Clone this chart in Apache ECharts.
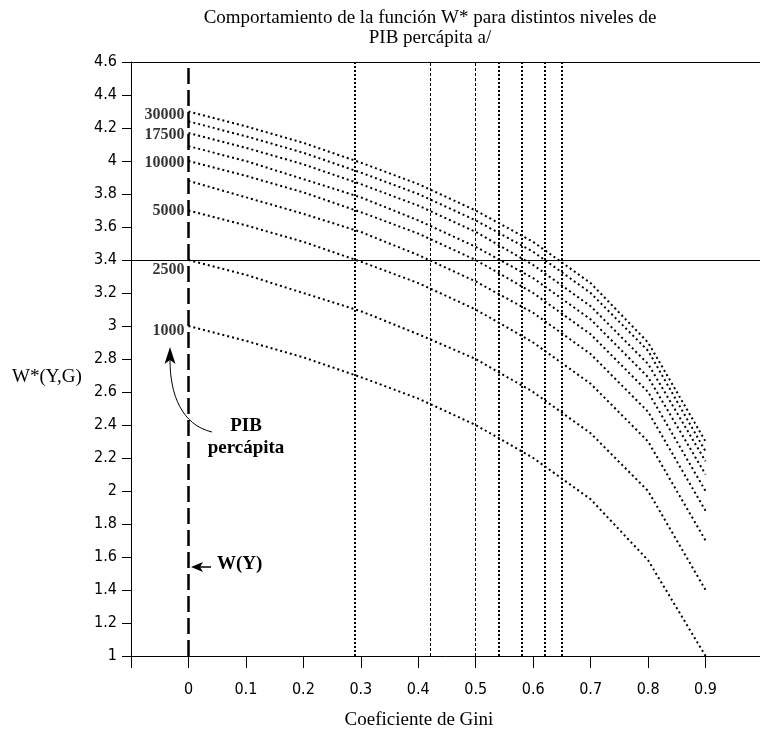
<!DOCTYPE html>
<html>
<head>
<meta charset="utf-8">
<script src="https://cdn.jsdelivr.net/npm/echarts@6/dist/echarts.min.js"></script>
<style>
html,body{margin:0;padding:0;background:#fff;}
#chart{width:760px;height:734px;}
</style>
</head>
<body>
<div id="chart"></div>
<script>
// Gini coefficient (x) sample points
const gini = [0, 0.1, 0.2, 0.3, 0.4, 0.5, 0.6, 0.7, 0.8, 0.9];
// W*(Y,G) values, one array per PIB percápita level
const w1000  = [3.00, 2.91, 2.81, 2.69, 2.56, 2.40, 2.20, 1.95, 1.58, 1.00];
const w2500  = [3.40, 3.31, 3.20, 3.09, 2.95, 2.80, 2.60, 2.35, 2.00, 1.40];
const w5000  = [3.70, 3.61, 3.51, 3.39, 3.26, 3.10, 2.90, 2.65, 2.30, 1.70];
const w7500  = [3.88, 3.78, 3.68, 3.57, 3.43, 3.27, 3.08, 2.83, 2.48, 1.88];
const w10000 = [4.00, 3.91, 3.81, 3.69, 3.56, 3.40, 3.20, 2.95, 2.60, 2.00];
const w12500 = [4.09, 4.00, 3.89, 3.78, 3.64, 3.48, 3.29, 3.04, 2.69, 2.10];
const w15000 = [4.17, 4.08, 3.98, 3.86, 3.73, 3.57, 3.37, 3.12, 2.77, 2.18];
const w17500 = [4.24, 4.15, 4.05, 3.93, 3.80, 3.64, 3.45, 3.20, 2.85, 2.24];
const w20000 = [4.30, 4.21, 4.11, 3.99, 3.86, 3.70, 3.51, 3.26, 2.90, 2.30];
const curves = [w1000, w2500, w5000, w7500, w10000, w12500, w15000, w17500, w20000];

// Level labels drawn to the left of the G = 0 line
const levelLabels = ['30000', '17500', '10000', '5000', '2500', '1000'];
const levelLabelY = [4.28, 4.16, 3.99, 3.70, 3.34, 2.97];

// Reference lines
const wyLine = 0;                                          // W(Y) dashed line at G = 0
const giniRefs = [0.292, 0.425, 0.5, 0.542, 0.584, 0.622, 0.647];
const giniRefThin = [false, true, true, false, false, false, false];
const wRefs = [4.6, 3.4];

// Axis ticks
const xMin = -0.1, xMax = 1.0, xStep = 0.1;
const yMin = 1, yMax = 4.6, yStep = 0.2;

const serif = '"Liberation Serif", "Times New Roman", serif';
const narrow = '"Liberation Sans Narrow", "DejaVu Sans Condensed", "Arial Narrow", "Liberation Sans", sans-serif';

const chart = echarts.init(document.getElementById('chart'), null, {renderer: 'canvas'});

const series = curves.map((vals, i) => ({
  type: 'line',
  data: gini.map((g, k) => [g, vals[k]]),
  symbol: 'none',
  silent: true,
  z: 3,
  lineStyle: {color: '#000', width: 2, type: [2, 3]}
}));

series[0].markLine = {
  silent: true,
  symbol: ['none', 'none'],
  label: {show: false},
  animation: false,
  data: [
    {xAxis: wyLine, lineStyle: {color: '#000', width: 2.5, type: [16, 6]}},
    ...giniRefs.map((g, i) => ({
      xAxis: g,
      lineStyle: giniRefThin[i]
        ? {color: '#000', width: 1, type: [3, 2]}
        : {color: '#000', width: 2, type: [2, 2]}
    })),
    ...wRefs.map(v => ({yAxis: v, lineStyle: {color: '#000', width: 1, type: 'solid'}}))
  ]
};

series.push({
  type: 'scatter',
  data: levelLabelY.map((v, i) => ({value: [0, v], name: levelLabels[i]})),
  symbolSize: 0,
  silent: true,
  z: 5,
  label: {
    show: true,
    position: 'left',
    distance: 4,
    formatter: p => p.name,
    fontFamily: serif,
    fontWeight: 'bold',
    fontSize: 16,
    color: '#000'
  }
});

function fmt(v) {
  const r = Math.round(v * 10) / 10;
  return String(r);
}

const option = {
  animation: false,
  backgroundColor: '#fff',
  grid: {left: 131, top: 62, right: -3, bottom: 78, containLabel: false, outerBoundsMode: 'none'},
  xAxis: {
    type: 'value',
    min: xMin, max: xMax, interval: xStep,
    axisLine: {show: true, onZero: false, lineStyle: {color: '#000', width: 1}},
    axisTick: {show: true, inside: false, length: 12, lineStyle: {color: '#000', width: 1}},
    splitLine: {show: false},
    axisLabel: {
      margin: 26,
      color: '#000',
      fontFamily: narrow,
      fontSize: 16,
      showMinLabel: true,
      showMaxLabel: true,
      formatter: v => (Math.abs(v - xMin) < 1e-9 ? '' : fmt(v))
    }
  },
  yAxis: {
    type: 'value',
    min: yMin, max: yMax, interval: yStep,
    axisLine: {show: true, onZero: false, lineStyle: {color: '#000', width: 1}},
    axisTick: {show: true, inside: false, length: 9, lineStyle: {color: '#000', width: 1}},
    splitLine: {show: false},
    axisLabel: {
      margin: 14,
      color: '#000',
      fontFamily: narrow,
      fontSize: 16,
      formatter: v => fmt(v)
    }
  },
  series: series,
  graphic: [
    {type: 'text', x: 430, y: 8, style: {
      text: 'Comportamiento de la función W* para distintos niveles de\nPIB percápita a/',
      fontFamily: serif, fontSize: 19, lineHeight: 20, fill: '#000', align: 'center'
    }},
    {type: 'text', x: 12, y: 368, style: {
      text: 'W*(Y,G)', fontFamily: serif, fontSize: 19, fill: '#000'
    }},
    {type: 'text', x: 419, y: 711, style: {
      text: 'Coeficiente de Gini', fontFamily: serif, fontSize: 19, fill: '#000', align: 'center'
    }},
    {type: 'text', x: 246, y: 415, style: {
      text: 'PIB\npercápita', fontFamily: serif, fontSize: 19, fontWeight: 'bold',
      lineHeight: 22, fill: '#000', align: 'center'
    }},
    {type: 'bezierCurve', shape: {
      x1: 212, y1: 432, cpx1: 182, cpy1: 425, cpx2: 170, cpy2: 395, x2: 170, y2: 360
    }, style: {stroke: '#000', lineWidth: 1, fill: null}},
    {type: 'polygon', shape: {points: [[170, 347], [164.5, 364], [170, 360], [175.5, 364]]},
      style: {fill: '#000'}},
    {type: 'line', shape: {x1: 198, y1: 567, x2: 211, y2: 567}, style: {stroke: '#000', lineWidth: 1.5}},
    {type: 'polygon', shape: {points: [[191, 567], [203, 562], [200, 567], [203, 572]]},
      style: {fill: '#000'}},
    {type: 'text', x: 217, y: 555, style: {
      text: 'W(Y)', fontFamily: serif, fontSize: 19, fontWeight: 'bold', fill: '#000'
    }}
  ]
};

chart.setOption(option);
</script>
</body>
</html>
